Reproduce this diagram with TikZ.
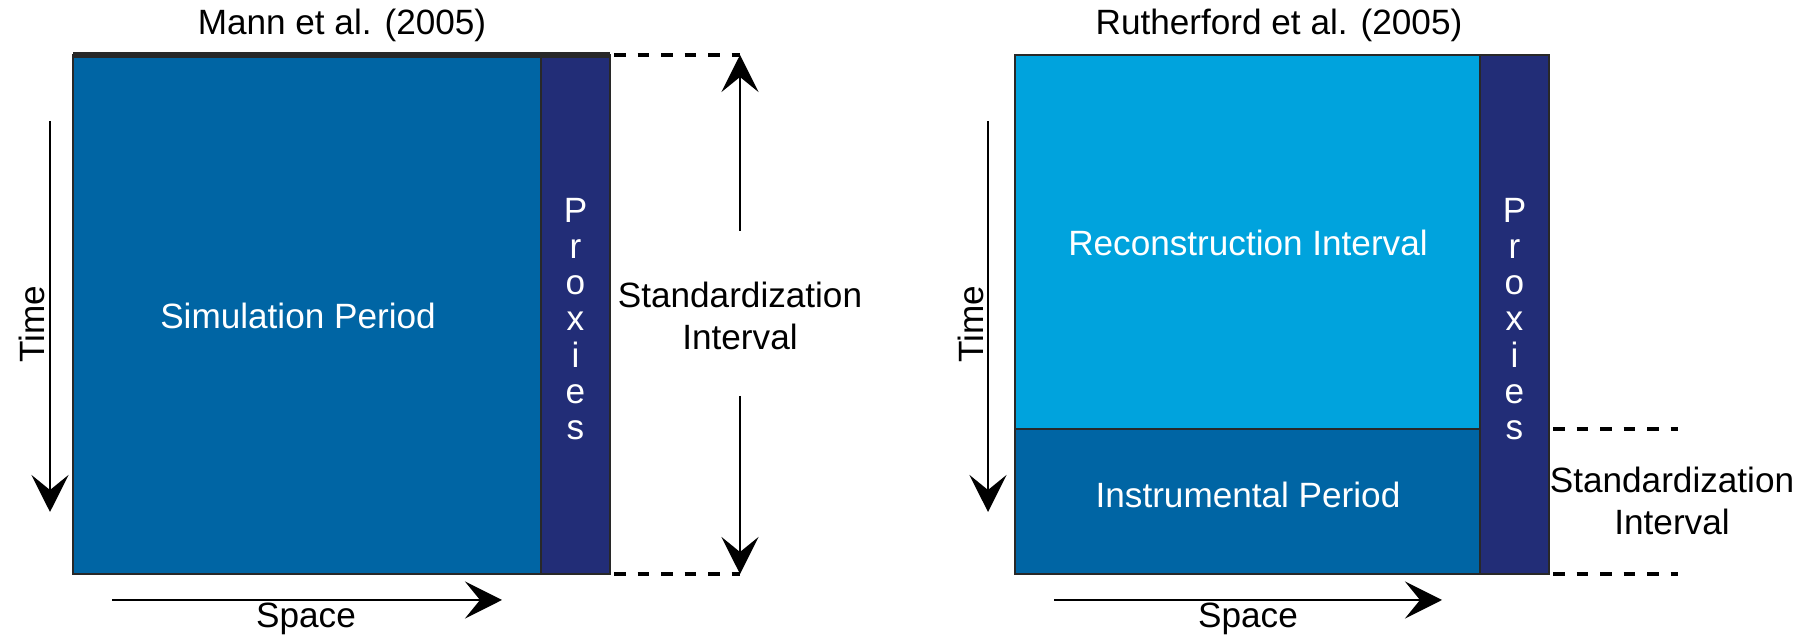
\documentclass[tikz,border=0pt]{standalone}
\usepackage{fontspec}
\setmainfont{Liberation Sans}
\usetikzlibrary{arrows.meta}
\definecolor{simblue}{RGB}{0,101,164}
\definecolor{recblue}{RGB}{0,163,221}
\definecolor{proxynavy}{RGB}{34,45,119}
\definecolor{edgegray}{RGB}{40,40,40}
\tikzset{
  box/.style={draw=edgegray,line width=0.8pt},
  axisarrow/.style={line width=0.8pt,-{Stealth[length=3.7mm,width=3.7mm,inset=1.5mm]}},
  dashline/.style={line width=1pt,dash pattern=on 1.15mm off 1.2mm},
  txt/.style={font=\fontsize{10}{12}\selectfont,align=center,inner sep=1pt},
  whitetxt/.style={txt,text=white},
  proxytxt/.style={whitetxt,font=\fontsize{10}{10.3}\selectfont},
}
\begin{document}
\begin{tikzpicture}
\useasboundingbox (0,0) rectangle (18.12,6.38);
%left panel
\draw[box,fill=simblue] (0.73,0.64) rectangle (5.41,5.83);
\draw[box,fill=proxynavy] (5.41,0.64) rectangle (6.10,5.83);
\draw[edgegray,line width=1.6pt] (0.73,5.83)--(6.10,5.83);
\node[txt] (mann) at (3.42,6.13) {Mann et al. (2005)};
\node[whitetxt] (sim) at (2.98,3.22) {Simulation Period};
\node[proxytxt] (proxA) at (5.755,3.19) {P\\r\\o\\x\\i\\e\\s};
%axes
\coordinate (tA1) at (0.50,5.17); \coordinate (tA2) at (0.50,1.26);
\draw[axisarrow] (tA1)--(tA2);
\node[txt,rotate=90] (timeA) at (0.32,3.14) {Time};
\coordinate (sA1) at (1.12,0.38); \coordinate (sA2) at (5.02,0.38);
\draw[axisarrow] (sA1)--(sA2);
\node[txt] (spaceA) at (3.06,0.19) {Space};
%standardization
\coordinate (topA) at (7.40,5.83); \coordinate (botA) at (7.40,0.64);
\draw[dashline] (6.14,5.83)--(topA);
\draw[dashline] (6.14,0.64)--(botA);
\node[txt] (stdA) at (7.40,3.22) {Standardization\\Interval};
\coordinate (aA1) at (7.40,4.07); \coordinate (aA2) at (7.40,2.42);
\draw[axisarrow] (aA1)--(topA);
\draw[axisarrow] (aA2)--(botA);
%right panel
\draw[box,fill=recblue] (10.15,2.09) rectangle (14.80,5.83);
\draw[box,fill=simblue] (10.15,0.64) rectangle (14.80,2.09);
\draw[box,fill=proxynavy] (14.80,0.64) rectangle (15.49,5.83);
\node[txt] (ruth) at (12.79,6.13) {Rutherford et al. (2005)};
\node[whitetxt] (rec) at (12.48,3.95) {Reconstruction Interval};
\node[whitetxt] (inst) at (12.48,1.43) {Instrumental Period};
\node[proxytxt] (proxB) at (15.145,3.19) {P\\r\\o\\x\\i\\e\\s};
%axes
\coordinate (tB1) at (9.88,5.17); \coordinate (tB2) at (9.88,1.26);
\draw[axisarrow] (tB1)--(tB2);
\node[txt,rotate=90] (timeB) at (9.71,3.14) {Time};
\coordinate (sB1) at (10.54,0.38); \coordinate (sB2) at (14.42,0.38);
\draw[axisarrow] (sB1)--(sB2);
\node[txt] (spaceB) at (12.48,0.19) {Space};
%standardization
\coordinate (topB) at (16.78,2.09); \coordinate (botB) at (16.78,0.64);
\draw[dashline] (15.53,2.09)--(topB);
\draw[dashline] (15.53,0.64)--(botB);
\node[txt] (stdB) at (16.72,1.37) {Standardization\\Interval};
\end{tikzpicture}
\end{document}
